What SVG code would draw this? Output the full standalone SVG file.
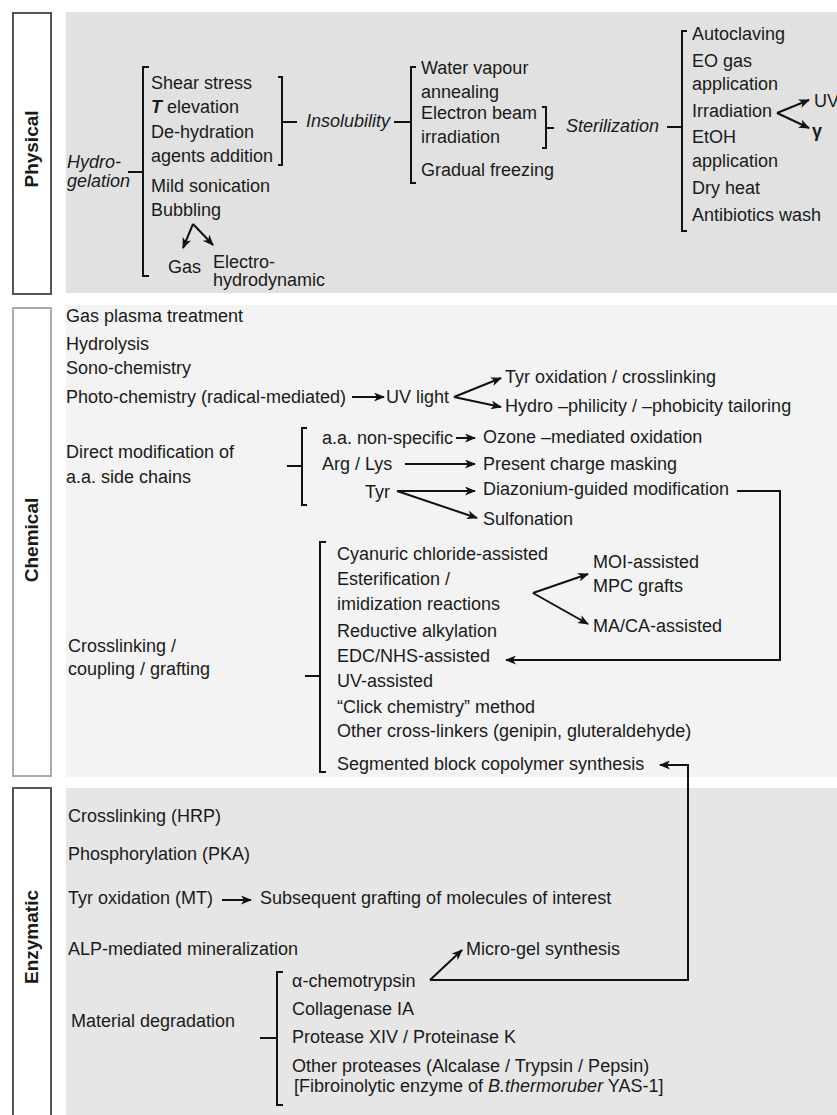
<svg xmlns="http://www.w3.org/2000/svg" width="837" height="1115" viewBox="0 0 837 1115">
<style>
text{font-family:"Liberation Sans",Arial,sans-serif;font-size:18px;fill:#1a1a1a}
.i{font-style:italic}
.b{font-weight:bold}
.lab{font-weight:bold;font-size:19px;text-anchor:middle}
.ln{stroke:#111;stroke-width:2;fill:none}
.br{stroke:#111;stroke-width:2;fill:none;stroke-linejoin:miter}
.ar{stroke:#111;stroke-width:2;fill:none;marker-end:url(#ah)}
</style>
<defs>
<marker id="ah" markerUnits="userSpaceOnUse" markerWidth="11" markerHeight="9" refX="10" refY="4.5" orient="auto">
<path d="M0,0 L11,4.5 L0,9 L3,4.5 z" fill="#111"/>
</marker>
</defs>
<g id="panels">
<rect x="66" y="12" width="771" height="281" fill="#e1e1e1"/>
<rect x="66" y="305" width="771" height="472" fill="#f3f3f3"/>
<rect x="66" y="788" width="771" height="327" fill="#e6e6e6"/>
<rect x="13" y="13" width="38" height="281" fill="#fff" stroke="#555" stroke-width="2"/>
<rect x="13" y="308" width="38" height="468" fill="#fff" stroke="#aaa" stroke-width="2"/>
<rect x="13" y="788" width="38" height="340" fill="#fff" stroke="#555" stroke-width="2"/>
<text class="lab" transform="translate(38,149) rotate(-90)">Physical</text>
<text class="lab" transform="translate(38,540) rotate(-90)">Chemical</text>
<text class="lab" transform="translate(38,937) rotate(-90)">Enzymatic</text>
</g>
<g id="connectors">
<path class="ln" d="M128,172 H143"/>
<path class="br" d="M149,67 H143 V276 H149"/>
<path class="br" d="M278,77 H282 V165 H278"/>
<path class="ln" d="M282,122 H297"/>
<path class="ln" d="M394,122 H411"/>
<path class="br" d="M416,67 H411 V183 H416"/>
<path class="br" d="M542,107 H546 V148 H542"/>
<path class="ln" d="M546,128 H554"/>
<path class="ln" d="M667,127 H682"/>
<path class="br" d="M687,31 H682 V231 H687"/>
<path class="ar" d="M777,113 L809,100"/>
<path class="ar" d="M777,113 L809,128"/>
<path class="ar" d="M193,224 L183,248"/>
<path class="ar" d="M193,224 L213,245"/>
<path class="ar" d="M352,397 H384"/>
<path class="ar" d="M454,397 L501,378"/>
<path class="ar" d="M454,397 L501,407"/>
<path class="ln" d="M287,466 H302"/>
<path class="br" d="M307,428 H302 V505 H307"/>
<path class="ar" d="M456,438 H475"/>
<path class="ar" d="M405,464 H475"/>
<path class="ar" d="M397,491 H475"/>
<path class="ar" d="M397,491 L477,518"/>
<path class="ar" d="M737,491 H780 V660 H506"/>
<path class="ln" d="M305,676 H320"/>
<path class="br" d="M326,542 H320 V772 H326"/>
<path class="ar" d="M533,593 L588,574"/>
<path class="ar" d="M533,593 L588,624"/>
<path class="ar" d="M430,980 H688 V765 H660"/>
<path class="ar" d="M430,980 L462,950"/>
<path class="ar" d="M222,900 H251"/>
<path class="ln" d="M260,1038 H277"/>
<path class="br" d="M283,972 H277 V1105 H283"/>
</g>
<g id="physical">
<g id="hydrogelation"><text class="i" x="67" y="168">Hydro-</text><text class="i" x="67" y="187">gelation</text></g>
<g id="hydro-items">
<text x="151" y="89">Shear stress</text>
<text x="151" y="113"><tspan class="b i">T</tspan> elevation</text>
<text x="151" y="138">De-hydration</text>
<text x="151" y="162">agents addition</text>
<text x="151" y="192">Mild sonication</text>
<text x="151" y="216">Bubbling</text>
<text x="168" y="273">Gas</text>
<text x="213" y="268">Electro-</text>
<text x="213" y="286">hydrodynamic</text>
</g>
<g id="insolubility"><text class="i" x="306" y="127">Insolubility</text></g>
<g id="insol-items">
<text x="421" y="74">Water vapour</text>
<text x="421" y="98">annealing</text>
<text x="421" y="119">Electron beam</text>
<text x="421" y="143">irradiation</text>
<text x="421" y="176">Gradual freezing</text>
</g>
<g id="sterilization"><text class="i" x="566" y="132">Sterilization</text></g>
<g id="steril-items">
<text x="692" y="40">Autoclaving</text>
<text x="692" y="67">EO gas</text>
<text x="692" y="90">application</text>
<text x="692" y="117">Irradiation</text>
<text x="692" y="143">EtOH</text>
<text x="692" y="167">application</text>
<text x="692" y="194">Dry heat</text>
<text x="692" y="221">Antibiotics wash</text>
<text x="814" y="107">UV</text>
<text class="b" x="812" y="137">γ</text>
</g>
</g>
<g id="chemical">
<g id="chem-simple">
<text x="66" y="322">Gas plasma treatment</text>
<text x="66" y="350">Hydrolysis</text>
<text x="66" y="374">Sono-chemistry</text>
<text x="66" y="403">Photo-chemistry (radical-mediated)</text>
<text x="386" y="403">UV light</text>
<text x="505" y="383">Tyr oxidation / crosslinking</text>
<text x="505" y="412">Hydro –philicity / –phobicity tailoring</text>
</g>
<g id="direct-mod">
<text x="66" y="458">Direct modification of</text>
<text x="66" y="483">a.a. side chains</text>
<text x="322" y="444">a.a. non-specific</text>
<text x="322" y="470">Arg / Lys</text>
<text x="365" y="498">Tyr</text>
<text x="483" y="443">Ozone –mediated oxidation</text>
<text x="483" y="470">Present charge masking</text>
<text x="483" y="495">Diazonium-guided modification</text>
<text x="483" y="525">Sulfonation</text>
</g>
<g id="crosslinking">
<text x="68" y="652">Crosslinking /</text>
<text x="68" y="675">coupling / grafting</text>
<text x="337" y="560">Cyanuric chloride-assisted</text>
<text x="337" y="585">Esterification /</text>
<text x="337" y="610">imidization reactions</text>
<text x="337" y="637">Reductive alkylation</text>
<text x="337" y="662">EDC/NHS-assisted</text>
<text x="337" y="687">UV-assisted</text>
<text x="337" y="713">“Click chemistry” method</text>
<text x="337" y="737">Other cross-linkers (genipin, gluteraldehyde)</text>
<text x="337" y="770">Segmented block copolymer synthesis</text>
<text x="593" y="568">MOI-assisted</text>
<text x="593" y="592">MPC grafts</text>
<text x="593" y="632">MA/CA-assisted</text>
</g>
</g>
<g id="enzymatic">
<g id="enz-simple">
<text x="68" y="822">Crosslinking (HRP)</text>
<text x="68" y="860">Phosphorylation (PKA)</text>
<text x="68" y="904">Tyr oxidation (MT)</text>
<text x="260" y="904">Subsequent grafting of molecules of interest</text>
<text x="68" y="955">ALP-mediated mineralization</text>
<text x="466" y="955">Micro-gel synthesis</text>
</g>
<g id="degradation">
<text x="71" y="1027">Material degradation</text>
<text x="292" y="987">α-chemotrypsin</text>
<text x="292" y="1015">Collagenase IA</text>
<text x="292" y="1043">Protease XIV / Proteinase K</text>
<text x="292" y="1072">Other proteases (Alcalase / Trypsin / Pepsin)</text>
<text x="294" y="1092">[Fibroinolytic enzyme of <tspan class="i">B.thermoruber</tspan> YAS-1]</text>
</g>
</g>
</svg>
